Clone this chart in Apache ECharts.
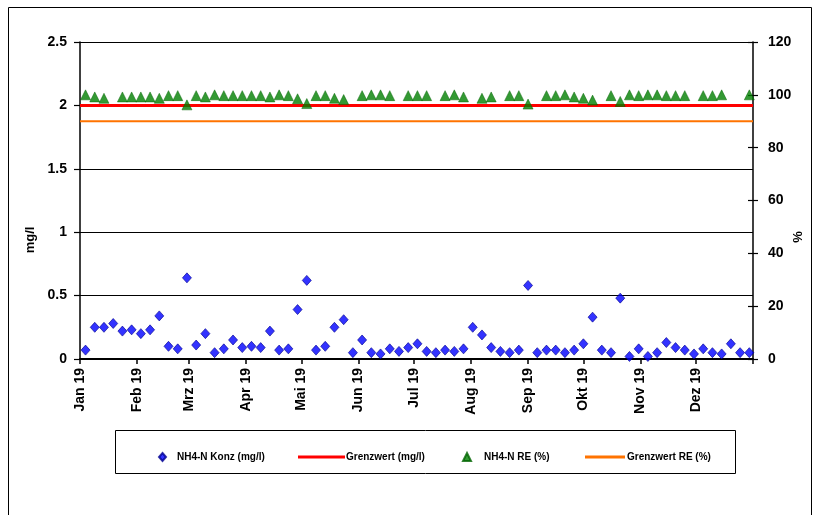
<!DOCTYPE html>
<html>
<head>
<meta charset="utf-8">
<script src="https://cdn.jsdelivr.net/npm/echarts@6/dist/echarts.min.js"></script>
<style>
  html, body { margin: 0; padding: 0; background: #fff; }
  #chart { width: 820px; height: 515px; }
</style>
</head>
<body>
<div id="chart"></div>
<script>
// Sampling dates (every 5 days through 2019)
const sampleDates = [
  '2019-01-04','2019-01-09','2019-01-14','2019-01-19','2019-01-24','2019-01-29',
  '2019-02-03','2019-02-08','2019-02-13','2019-02-18','2019-02-23','2019-02-28',
  '2019-03-05','2019-03-10','2019-03-15','2019-03-20','2019-03-25','2019-03-30',
  '2019-04-04','2019-04-09','2019-04-14','2019-04-19','2019-04-24','2019-04-29',
  '2019-05-04','2019-05-09','2019-05-14','2019-05-19','2019-05-24','2019-05-29',
  '2019-06-03','2019-06-08','2019-06-13','2019-06-18','2019-06-23','2019-06-28',
  '2019-07-03','2019-07-08','2019-07-13','2019-07-18','2019-07-23','2019-07-28',
  '2019-08-02','2019-08-07','2019-08-12','2019-08-17','2019-08-22','2019-08-27',
  '2019-09-01','2019-09-06','2019-09-11','2019-09-16','2019-09-21','2019-09-26',
  '2019-10-01','2019-10-06','2019-10-11','2019-10-16','2019-10-21','2019-10-26','2019-10-31',
  '2019-11-05','2019-11-10','2019-11-15','2019-11-20','2019-11-25','2019-11-30',
  '2019-12-05','2019-12-10','2019-12-15','2019-12-20','2019-12-25','2019-12-30'
];

// NH4-N effluent concentration (mg/l)
const nh4Konz = [
  0.07, 0.25, 0.25, 0.28, 0.22, 0.23,
  0.20, 0.23, 0.34, 0.10, 0.08, 0.64,
  0.11, 0.20, 0.05, 0.08, 0.15, 0.09,
  0.10, 0.09, 0.22, 0.07, 0.08, 0.39,
  0.62, 0.07, 0.10, 0.25, 0.31, 0.05,
  0.15, 0.05, 0.04, 0.08, 0.06, 0.09,
  0.12, 0.06, 0.05, 0.07, 0.06, 0.08,
  0.25, 0.19, 0.09, 0.06, 0.05, 0.07,
  0.58, 0.05, 0.07, 0.07, 0.05, 0.07,
  0.12, 0.33, 0.07, 0.05, 0.48, 0.02, 0.08,
  0.02, 0.05, 0.13, 0.09, 0.07, 0.04,
  0.08, 0.05, 0.04, 0.12, 0.05, 0.05
];

// NH4-N removal efficiency (%), null where not determined
const nh4RE = [
  100.0, 99.2, 98.7, null, 99.2, 99.2,
  99.2, 99.2, 98.7, 99.7, 99.7, 96.2,
  99.7, 99.2, 100.0, 99.7, 99.7, 99.7,
  99.7, 99.7, 99.2, 100.0, 99.7, 98.5,
  96.7, 99.7, 99.7, 98.7, 98.2, null,
  99.7, 100.0, 100.0, 99.7, null, 99.7,
  99.7, 99.7, null, 99.7, 100.0, 99.2,
  null, 98.7, 99.2, null, 99.7, 99.7,
  96.5, null, 99.7, 99.7, 100.0, 99.2,
  98.7, 98.0, null, 99.7, 97.5, 100.0, 99.7,
  100.0, 100.0, 99.7, 99.7, 99.7, null,
  99.7, 99.7, 100.0, null, null, 100.0
];

// Limit values
const grenzwertKonz = 2;    // mg/l
const grenzwertRE = 90;     // %

// Time span and month ticks
const axisStart = '2019-01-01';
const axisEnd = '2020-01-01';
const monthStarts = ['2019-01-01','2019-02-01','2019-03-01','2019-04-01','2019-05-01','2019-06-01',
                     '2019-07-01','2019-08-01','2019-09-01','2019-10-01','2019-11-01','2019-12-01'];
const monthLabels = ['Jan 19','Feb 19','Mrz 19','Apr 19','Mai 19','Jun 19',
                     'Jul 19','Aug 19','Sep 19','Okt 19','Nov 19','Dez 19'];

// Y axis ticks
const leftAxis = { min: 0, max: 2.5, interval: 0.5 };
const rightAxis = { min: 0, max: 120, interval: 20 };

const toTime = s => new Date(s + 'T00:00:00').getTime();
const monthTimes = monthStarts.map(toTime);
const labelByTime = {};
monthTimes.forEach((t, i) => { labelByTime[t] = monthLabels[i]; });
const tStart = toTime(axisStart);
const tEnd = toTime(axisEnd);

const konzData = sampleDates.map((d, i) => [toTime(d), nh4Konz[i]]);
const reData = sampleDates.map((d, i) => [toTime(d), nh4RE[i]]).filter(p => p[1] !== null);

const FONT = 'Liberation Sans, Arial, sans-serif';
const chart = echarts.init(document.getElementById('chart'), null, { renderer: 'canvas' });

const legendText = { fontFamily: FONT, fontWeight: 'bold', fontSize: 10, color: '#000' };
const legendBase = {
  top: 447,
  orient: 'horizontal',
  itemGap: 0,
  selectedMode: false
};

chart.setOption({
  backgroundColor: '#fff',
  animation: false,
  grid: { left: 80, right: 67, top: 42, bottom: 156, containLabel: false },
  xAxis: {
    type: 'value',
    min: tStart,
    max: tEnd,
    axisLine: { lineStyle: { color: '#000', width: 2 } },
    axisTick: {
      show: true,
      length: 5,
      customValues: monthTimes.concat([tEnd]),
      lineStyle: { color: '#000', width: 1.5 }
    },
    axisLabel: {
      customValues: monthTimes,
      rotate: 90,
      margin: 9,
      fontFamily: FONT,
      fontWeight: 'bold',
      fontSize: 14,
      color: '#000',
      formatter: v => labelByTime[v] || ''
    },
    splitLine: { show: false }
  },
  yAxis: [
    {
      type: 'value',
      position: 'left',
      min: leftAxis.min, max: leftAxis.max, interval: leftAxis.interval,
      axisLine: { show: true, lineStyle: { color: '#000', width: 1.5 } },
      axisTick: { show: true, length: 6, lineStyle: { color: '#000', width: 1.2 } },
      axisLabel: { margin: 13, fontFamily: FONT, fontWeight: 'bold', fontSize: 14, color: '#000' },
      splitLine: { show: true, lineStyle: { color: '#000', width: 1.2 } }
    },
    {
      type: 'value',
      position: 'right',
      min: rightAxis.min, max: rightAxis.max, interval: rightAxis.interval,
      axisLine: { show: true, lineStyle: { color: '#000', width: 1.5 } },
      axisTick: { show: true, length: 5, lineStyle: { color: '#000', width: 1.2 } },
      axisLabel: { margin: 15, fontFamily: FONT, fontWeight: 'bold', fontSize: 14, color: '#000' },
      splitLine: { show: false }
    },
    {
      // inner half of the crossing ticks on the percent axis
      type: 'value',
      position: 'right',
      min: rightAxis.min, max: rightAxis.max, interval: rightAxis.interval,
      axisLine: { show: false },
      axisTick: { show: true, inside: true, length: 5, lineStyle: { color: '#000', width: 1.2 } },
      axisLabel: { show: false },
      splitLine: { show: false }
    }
  ],
  legend: [
    Object.assign({}, legendBase, {
      left: 153, data: [{ name: 'NH4-N Konz (mg/l)', icon: 'diamond' }], itemWidth: 7, itemHeight: 8,
      textStyle: Object.assign({ padding: [0, 0, 0, 6] }, legendText)
    }),
    Object.assign({}, legendBase, {
      left: 293, data: [{ name: 'Grenzwert (mg/l)', icon: 'rect' }], itemWidth: 47, itemHeight: 3,
      textStyle: Object.assign({ padding: [0, 0, 0, -4] }, legendText)
    }),
    Object.assign({}, legendBase, {
      left: 457, data: [{ name: 'NH4-N RE (%)', icon: 'triangle' }], itemWidth: 8, itemHeight: 8,
      textStyle: Object.assign({ padding: [0, 0, 0, 8] }, legendText)
    }),
    Object.assign({}, legendBase, {
      left: 580, data: [{ name: 'Grenzwert RE (%)', icon: 'rect' }], itemWidth: 40, itemHeight: 3,
      textStyle: Object.assign({ padding: [0, 0, 0, -3] }, legendText)
    })
  ],
  graphic: [
    {
      type: 'rect', silent: true, z: -10,
      shape: { x: 8.5, y: 7.5, width: 803, height: 520 },
      style: { fill: null, stroke: '#000', lineWidth: 1 }
    },
    {
      type: 'rect', silent: true,
      shape: { x: 115.5, y: 430.5, width: 620, height: 43 },
      style: { fill: '#fff', stroke: '#000', lineWidth: 1 },
      z: -1
    },
    {
      type: 'text', x: 30, y: 240, rotation: Math.PI / 2,
      style: { text: 'mg/l', font: 'bold 13px ' + FONT, fill: '#000', align: 'center', verticalAlign: 'middle' }
    },
    {
      type: 'text', x: 798, y: 237, rotation: Math.PI / 2,
      style: { text: '%', font: 'bold 13px ' + FONT, fill: '#000', align: 'center', verticalAlign: 'middle' }
    }
  ],
  series: [
    {
      name: 'Grenzwert RE (%)',
      type: 'line',
      yAxisIndex: 1,
      data: [[tStart, grenzwertRE], [tEnd, grenzwertRE]],
      symbol: 'none',
      color: '#FF7300',
      lineStyle: { color: '#FF7300', width: 2 },
      z: 2
    },
    {
      name: 'Grenzwert (mg/l)',
      type: 'line',
      yAxisIndex: 0,
      data: [[tStart, grenzwertKonz], [tEnd, grenzwertKonz]],
      symbol: 'none',
      color: '#FF0000',
      lineStyle: { color: '#FF0000', width: 3 },
      z: 2
    },
    {
      name: 'NH4-N RE (%)',
      type: 'scatter',
      yAxisIndex: 1,
      data: reData,
      symbol: 'triangle',
      symbolSize: [10, 10],
      itemStyle: { color: '#008000', borderColor: '#006400', borderWidth: 0.6 },
      z: 3
    },
    {
      name: 'NH4-N Konz (mg/l)',
      type: 'scatter',
      yAxisIndex: 0,
      data: konzData,
      symbol: 'diamond',
      symbolSize: [9, 10],
      itemStyle: { color: '#0000FF', borderColor: '#000090', borderWidth: 0.8 },
      z: 4
    }
  ]
});
</script>
</body>
</html>
